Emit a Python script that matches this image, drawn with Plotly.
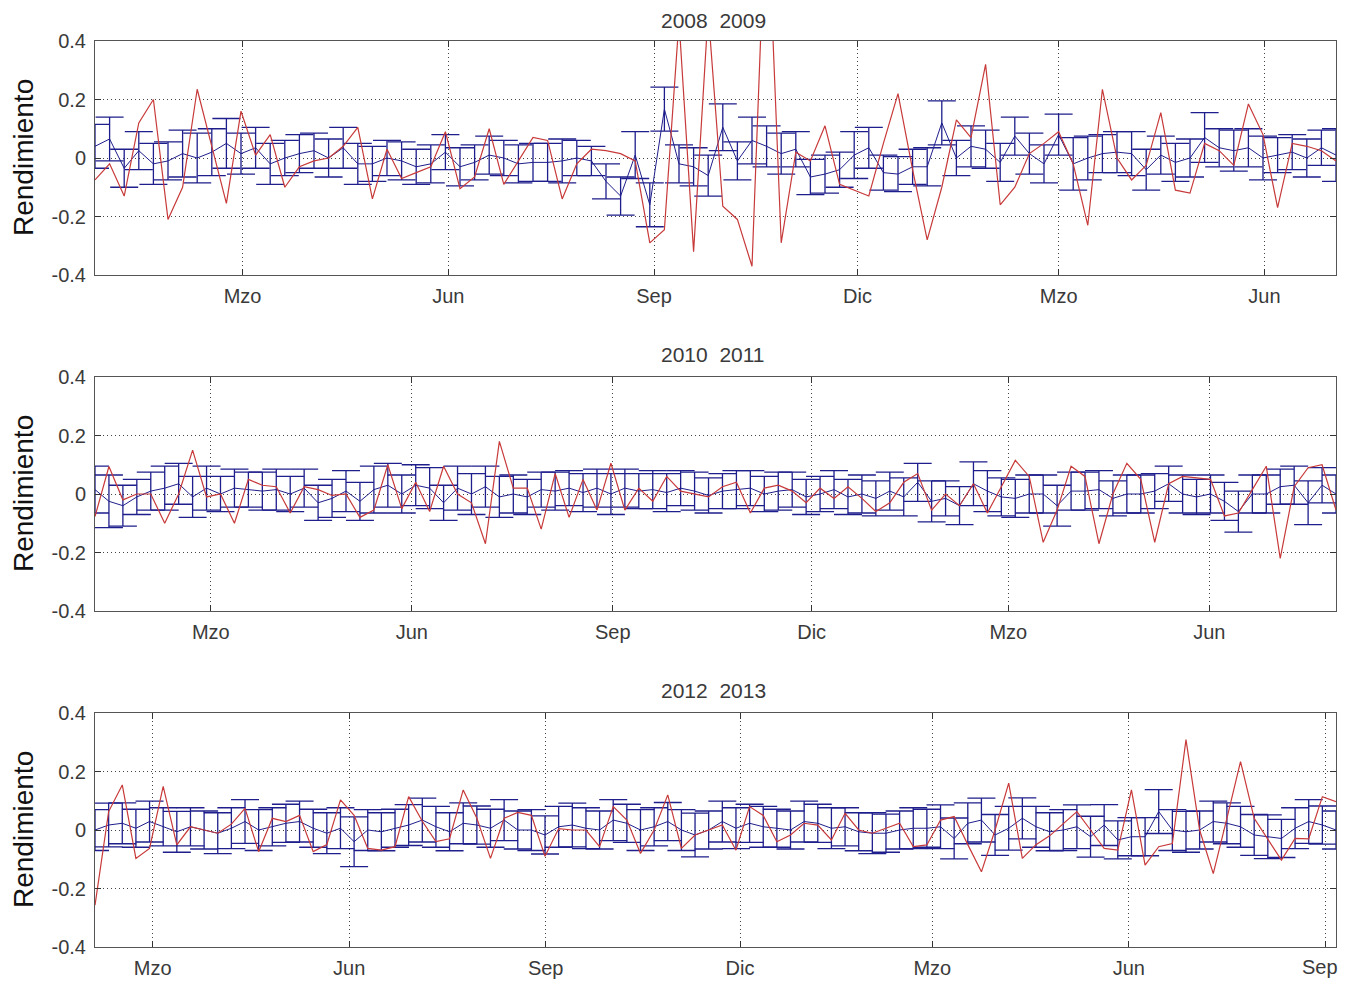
import pandas as pd
import plotly.graph_objects as go

# ---------------- data ----------------
panel_titles = ["2008\u00a0\u00a02009", "2010\u00a0\u00a02011", "2012\u00a0\u00a02013"]
panel_start = ["2007-12-26", "2010-01-07", "2012-02-03"]
panel_end = ["2009-07-03", "2011-07-29", "2013-09-06"]

month_ticks_1 = ["2008-03-01", "2008-06-01", "2008-09-01", "2008-12-01", "2009-03-01", "2009-06-01"]
month_ticks_2 = ["2010-03-01", "2010-06-01", "2010-09-01", "2010-12-01", "2011-03-01", "2011-06-01"]
month_ticks_3 = ["2012-03-01", "2012-06-01", "2012-09-01", "2012-12-01", "2013-03-01", "2013-06-01", "2013-09-01"]
month_labels_1 = ["Mzo", "Jun", "Sep", "Dic", "Mzo", "Jun"]
month_labels_2 = ["Mzo", "Jun", "Sep", "Dic", "Mzo", "Jun"]
month_labels_3 = ["Mzo", "Jun", "Sep", "Dic", "Mzo", "Jun", "Sep"]

y_ticks = [-0.4, -0.2, 0, 0.2, 0.4]
y_tick_labels = ["-0.4", "-0.2", "0", "0.2", "0.4"]

# actual return (red)
real_1 = [-0.075, -0.02, -0.13, 0.12, 0.20, -0.21, -0.10, 0.235, 0.04, -0.155, 0.16, 0.01, 0.08, -0.10, -0.03,
          -0.01, 0.0, 0.04, 0.105, -0.14, 0.03, -0.07, -0.05, -0.03, 0.09, -0.105, -0.065, 0.10, -0.09,
          -0.01, 0.07, 0.06, -0.14, -0.02, 0.03, 0.025, 0.015, -0.01, -0.29, -0.245, 0.47, -0.32, 0.5, -0.165,
          -0.21, -0.37, 0.95, -0.29, 0.02, -0.01, 0.11, -0.09, -0.11, -0.13, 0.05, 0.22, -0.04,
          -0.28, -0.10, 0.13, 0.07, 0.32, -0.16, -0.10, 0.015, 0.05, 0.09, -0.02, -0.23, 0.235, 0.0, -0.075,
          -0.025, 0.155, -0.11, -0.12, 0.05, 0.025, -0.025, 0.185, 0.08, -0.17, 0.05, 0.04, 0.025, -0.01]
# forecast mean (blue)
mean_1 = [0.04, 0.065, -0.035, 0.025, -0.02, -0.01, 0.015, 0.0, 0.02, 0.05, 0.015, 0.035, -0.02, 0.0, 0.015,
          0.025, 0.0, 0.035, -0.02, -0.02, 0.0, -0.01, -0.03, -0.02, 0.02, -0.03, -0.015, 0.01, 0.0,
          -0.02, -0.015, -0.015, -0.01, 0.0, -0.01, -0.08, -0.13, 0.01, -0.16, 0.167, -0.02, -0.03, -0.06, 0.105,
          -0.01, 0.06, 0.04, 0.015, 0.03, -0.065, -0.055, -0.04, 0.01, 0.035, -0.05, -0.055, -0.03,
          -0.03, 0.12, 0.0, 0.04, 0.03, -0.015, 0.075, 0.015, -0.02, 0.08, -0.02, 0.0, 0.015, 0.02, 0.015,
          -0.04, 0.01, -0.015, 0.0, 0.07, 0.035, 0.025, 0.035, 0.0, 0.01, 0.02, 0.0, 0.035, 0.01]
# forecast standard deviation (blue error bars)
std_1 = [0.075, 0.075, 0.065, 0.065, 0.07, 0.065, 0.08, 0.085, 0.08, 0.085, 0.07, 0.07, 0.07, 0.06, 0.065,
         0.06, 0.065, 0.07, 0.07, 0.06, 0.06, 0.065, 0.06, 0.065, 0.06, 0.065, 0.06, 0.065, 0.06,
         0.065, 0.065, 0.065, 0.075, 0.06, 0.05, 0.06, 0.065, 0.08, 0.075, 0.075, 0.065, 0.065, 0.07, 0.08,
         0.065, 0.08, 0.07, 0.07, 0.06, 0.06, 0.065, 0.06, 0.08, 0.07, 0.06, 0.06, 0.06,
         0.065, 0.075, 0.06, 0.07, 0.065, 0.065, 0.065, 0.07, 0.065, 0.07, 0.09, 0.075, 0.065, 0.07, 0.075,
         0.07, 0.065, 0.065, 0.065, 0.085, 0.065, 0.07, 0.065, 0.075, 0.06, 0.06, 0.065, 0.06, 0.09]

real_2 = [-0.077, 0.094, -0.02, 0.0, 0.0, -0.1, 0.0, 0.15, -0.01, 0.0, -0.1, 0.05, 0.03, 0.025, -0.065,
          0.025, 0.015, -0.005, 0.0, -0.08, -0.055, 0.1, -0.05, 0.04, -0.06, 0.095, 0.0, -0.03, -0.17, 0.18,
          0.02, 0.02, -0.12, 0.07, -0.08, 0.05, -0.055, 0.105, -0.055, 0.02, -0.025, 0.06, 0.01, 0.0, -0.01,
          0.025, 0.04, -0.065, 0.02, 0.03, 0.01, -0.03, 0.02, -0.015, 0.025, -0.015, -0.06, -0.03, 0.04,
          0.07, -0.055, 0.0, -0.04, 0.035, -0.065, 0.025, 0.115, 0.06, -0.165, -0.055, 0.095, 0.06, -0.17, 0.0,
          0.105, 0.05, -0.165, 0.035, 0.06, 0.055, 0.05, -0.075, -0.065, 0.015, 0.095, -0.22, 0.025, 0.09, 0.10,
          -0.055]
mean_2 = [0.015, -0.025, -0.04, -0.01, 0.01, 0.02, 0.035, -0.01, 0.02, 0.0, 0.02, 0.015, 0.01, 0.015, 0.0,
          0.02, -0.03, -0.015, 0.01, -0.025, 0.015, 0.03, 0.0, 0.03, 0.02, -0.03, 0.02, 0.0, 0.025, -0.01,
          0.0, -0.01, 0.015, 0.01, 0.02, 0.005, 0.02, 0.0, 0.02, 0.01, 0.015, 0.005, 0.02, 0.01, -0.005,
          0.01, 0.015, 0.02, 0.0, 0.01, 0.015, -0.01, 0.0, 0.015, -0.01, 0.0, -0.015, 0.01, -0.01,
          0.04, -0.025, -0.015, -0.04, 0.035, 0.01, -0.01, -0.015, 0.0, 0.0, -0.04, 0.01, 0.01, 0.015, -0.015,
          0.0, 0.0, 0.01, 0.035, 0.0, -0.01, 0.0, -0.025, -0.06, 0.0, 0.0, 0.025, 0.03, -0.03, 0.03,
          0.0]
std_2 = [0.08, 0.09, 0.07, 0.06, 0.065, 0.075, 0.07, 0.07, 0.075, 0.06, 0.065, 0.06, 0.065, 0.07, 0.06,
         0.065, 0.06, 0.065, 0.07, 0.065, 0.08, 0.075, 0.065, 0.07, 0.07, 0.06, 0.075, 0.07, 0.07, 0.07,
         0.065, 0.06, 0.06, 0.065, 0.06, 0.065, 0.065, 0.07, 0.065, 0.06, 0.065, 0.065, 0.06, 0.065, 0.06,
         0.06, 0.065, 0.06, 0.06, 0.065, 0.06, 0.06, 0.06, 0.065, 0.06, 0.065, 0.06, 0.065, 0.065,
         0.065, 0.07, 0.06, 0.065, 0.075, 0.07, 0.065, 0.065, 0.065, 0.065, 0.07, 0.065, 0.065, 0.065, 0.06,
         0.065, 0.065, 0.06, 0.06, 0.065, 0.06, 0.065, 0.065, 0.07, 0.065, 0.065, 0.06, 0.065, 0.075, 0.06,
         0.065]

real_3 = [-0.257, 0.063, 0.154, -0.097, -0.063, 0.149, -0.051, 0.011, 0.0, -0.011, 0.02, 0.074, -0.074, 0.04,
          0.029, 0.05, -0.074, -0.05, 0.103, 0.05, -0.063, -0.069, -0.057, 0.114, 0.03, -0.04, -0.03, 0.137,
          0.04, -0.097, 0.04,
          0.06, 0.05, -0.09, 0.005, 0.0, 0.0, -0.057, 0.08, 0.034, -0.08, 0.0, 0.12, -0.063, -0.017, 0.0,
          0.017, -0.069, 0.08, 0.05, -0.04, -0.017, 0.023, 0.017, -0.034, 0.057, 0.0, -0.011, 0.006, 0.023,
          -0.057,
          -0.051, 0.034, 0.046, -0.05, -0.143, 0.0, 0.16, -0.097, -0.05, -0.02, 0.02, 0.063, 0.0, -0.063,
          -0.069, 0.137, -0.12, -0.057, -0.046, 0.309, 0.0, -0.149, 0.04, 0.234, 0.04, -0.03, -0.103, -0.029,
          -0.03, 0.114, 0.097]
mean_3 = [0.0, 0.017, 0.023, 0.006, 0.029, 0.011, -0.006, 0.011, 0.0, -0.011, 0.006, 0.029, 0.0, 0.011,
          0.023, 0.029, 0.006, -0.011, 0.006, -0.04, 0.0, -0.006, 0.006, 0.017, 0.034, 0.011, -0.006, 0.023,
          0.017, 0.006, 0.034,
          0.0, 0.0, -0.017, 0.011, 0.017, 0.006, 0.0, 0.034, 0.023, 0.0, 0.011, 0.029, 0.0, -0.017, 0.0,
          0.029, 0.006, 0.023, 0.011, 0.006, 0.0, 0.029, 0.023, 0.006, 0.011, -0.006, -0.011, -0.011, 0.0,
          0.006,
          0.006, 0.011, -0.029, 0.023, 0.034, -0.017, 0.006, 0.04, 0.011, -0.006, 0.0, 0.011, -0.023, 0.017,
          -0.034, -0.023, -0.023, 0.063, 0.0, -0.006, 0.0, 0.029, 0.023, 0.011, -0.017, -0.023, -0.029, 0.006,
          0.029, 0.017, 0.0]
std_3 = [0.07, 0.075, 0.07, 0.065, 0.07, 0.065, 0.07, 0.065, 0.065, 0.07, 0.07, 0.075, 0.07, 0.065,
         0.065, 0.07, 0.065, 0.07, 0.07, 0.085, 0.07, 0.065, 0.065, 0.07, 0.075, 0.07, 0.065, 0.07,
         0.065, 0.065, 0.07,
         0.065, 0.07, 0.065, 0.07, 0.075, 0.07, 0.065, 0.07, 0.065, 0.07, 0.065, 0.065, 0.07, 0.075, 0.065,
         0.07, 0.07, 0.065, 0.07, 0.065, 0.065, 0.07, 0.065, 0.07, 0.065, 0.065, 0.07, 0.065, 0.065,
         0.07,
         0.065, 0.075, 0.07, 0.07, 0.075, 0.07, 0.075, 0.07, 0.07, 0.065, 0.07, 0.075, 0.07, 0.07,
         0.065, 0.065, 0.065, 0.075, 0.07, 0.07, 0.065, 0.07, 0.07, 0.07, 0.07, 0.075, 0.065, 0.07,
         0.075, 0.065, 0.065]

reals = [real_1, real_2, real_3]
means = [mean_1, mean_2, mean_3]
stds = [std_1, std_2, std_3]
ticks = [month_ticks_1, month_ticks_2, month_ticks_3]
tick_labels = [month_labels_1, month_labels_2, month_labels_3]

# ---------------- figure ----------------
# the page has an 8px body margin, so the figure sits 8px in from the top-left
OFF = 8
W, H = 1332, 973
ML, MR, MT = 95 - OFF, 4, 41 - OFF
MB = H - (947 - OFF)
plot_h = H - MT - MB
plot_w = W - ML - MR
panel_px = [(41 - OFF, 275 - OFF), (377 - OFF, 611 - OFF), (713 - OFF, 947 - OFF)]

BLUE = "#1e1e8c"
RED = "#c83a3a"
FONT = "Liberation Sans, Arial, sans-serif"
TXT = "#3a3a3a"

fig = go.Figure()
layout = dict(
    width=W, height=H, autosize=False,
    margin=dict(l=ML, r=MR, t=MT, b=MB, autoexpand=False),
    paper_bgcolor="white", plot_bgcolor="white",
    showlegend=False,
    font=dict(family=FONT, size=20, color=TXT),
)

annotations = []
for k in range(3):
    n = len(reals[k])
    dates = pd.date_range(panel_start[k], panel_end[k], periods=n)
    xa = "x" if k == 0 else f"x{k+1}"
    ya = "y" if k == 0 else f"y{k+1}"
    top, bot = panel_px[k]
    dom = [1 - (bot - MT) / plot_h, 1 - (top - MT) / plot_h]

    fig.add_trace(go.Scatter(
        x=dates, y=means[k], mode="lines", xaxis=xa, yaxis=ya,
        line=dict(color=BLUE, width=1),
        error_y=dict(type="data", array=stds[k], visible=True, color=BLUE, thickness=1.3, width=14),
    ))
    fig.add_trace(go.Scatter(
        x=dates, y=reals[k], mode="lines", xaxis=xa, yaxis=ya,
        line=dict(color=RED, width=1.2),
    ))

    # the last label of the bottom panel sits at the right edge of the page: draw it as
    # a right-anchored text so that it is not cut by the page edge
    labels = list(tick_labels[k])
    if k == 2:
        edge_label = labels[-1]
        labels[-1] = ""
        annotations.append(dict(
            text=edge_label, xref="paper", yref="paper", x=1 + MR / plot_w, y=dom[0],
            xanchor="right", yanchor="top", yshift=-7, showarrow=False,
            font=dict(family=FONT, size=20, color=TXT),
        ))

    xkey = "xaxis" if k == 0 else f"xaxis{k+1}"
    ykey = "yaxis" if k == 0 else f"yaxis{k+1}"
    common = dict(
        ticks="inside", ticklen=6, tickcolor="#333333", tickwidth=1,
        showline=True, linecolor="#555555", linewidth=1, mirror="ticks",
        showgrid=True, gridcolor="#444444", gridwidth=1, griddash="1px,3px",
        zeroline=False, tickfont=dict(family=FONT, size=20, color=TXT),
        automargin=False,
    )
    layout[xkey] = dict(
        type="date", range=[panel_start[k], panel_end[k]], anchor=ya, domain=[0, 1],
        tickmode="array", tickvals=ticks[k], ticktext=labels,
        ticklabelstandoff=3, **common,
    )
    layout[ykey] = dict(
        range=[-0.4, 0.4], anchor=xa, domain=dom,
        tickmode="array", tickvals=y_ticks, ticktext=y_tick_labels,
        ticklabelstandoff=4, **common,
    )
    # panel title (the top one is anchored to the top edge of the figure so it is not cut)
    if k == 0:
        title_pos = dict(y=1 + MT / plot_h, yanchor="top", borderpad=0)
    else:
        title_pos = dict(y=dom[1] + 23 / plot_h, yanchor="middle")
    annotations.append(dict(
        text=panel_titles[k], xref="paper", yref="paper", x=(713 - OFF - ML) / plot_w,
        xanchor="center", showarrow=False,
        font=dict(family=FONT, size=21, color=TXT), **title_pos,
    ))
    # y axis title
    annotations.append(dict(
        text="Rendimiento", xref="paper", yref="paper", x=(23 - OFF - ML) / plot_w,
        y=(dom[0] + dom[1]) / 2, xanchor="center", yanchor="middle", textangle=-90,
        showarrow=False, font=dict(family=FONT, size=28, color="#111111"),
    ))

layout["annotations"] = annotations
fig.update_layout(**layout)
fig.write_html("out.html", config={"displayModeBar": False})
